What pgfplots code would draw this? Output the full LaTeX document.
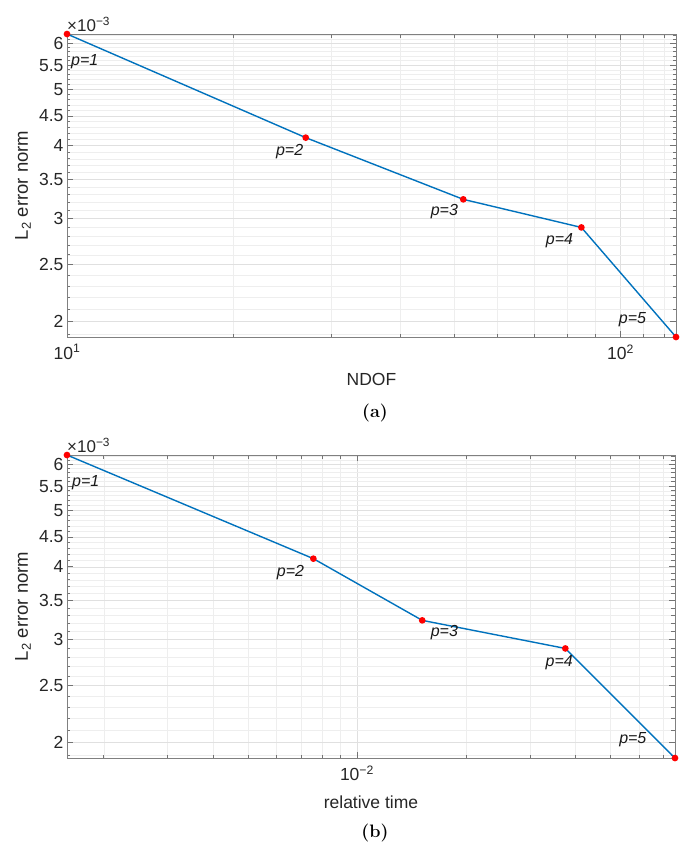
\documentclass[border=0pt]{standalone}
\usepackage{fontspec}
\setsansfont{Liberation Sans}
\usepackage{pgfplots}
\pgfplotsset{compat=1.18}
\definecolor{mblue}{rgb}{0,0.447,0.741}
\tikzset{
  plab/.style={anchor=west, inner sep=0pt, font=\sffamily\itshape\fontsize{16}{19}\selectfont, text=black!90},
  expo/.style={anchor=south west, inner sep=0pt, font=\sffamily\fontsize{17}{20}\selectfont, text=black!85},
}
\begin{document}
\begin{tikzpicture}[x=1pt,y=1pt]
\useasboundingbox (0,0) rectangle (691,860);
% ---------- (a) ----------
\begin{axis}[at={(67pt,523pt)}, anchor=south west,
  xmode=log, ymode=log, scale only axis, width=609pt, height=303pt,
  ymin=1.879e-3, ymax=6.22e-3,
  ytick={0.002,0.0025,0.003,0.0035,0.004,0.0045,0.005,0.0055,0.006},
  yticklabels={2,2.5,3,3.5,4,4.5,5,5.5,6},
  minor ytick={0.0019,0.0021,0.0022,0.0023,0.0024,0.0026,0.0027,0.0028,0.0029,0.0031,0.0032,0.0033,0.0034,0.0036,0.0037,0.0038,0.0039,0.0041,0.0042,0.0043,0.0044,0.0046,0.0047,0.0048,0.0049,0.0051,0.0052,0.0053,0.0054,0.0056,0.0057,0.0058,0.0059,0.0061,0.0062},
  grid=both,
  major grid style={gray!24, line width=0.5pt},
  minor grid style={gray!13, line width=0.5pt},
  axis line style={black!50, line width=0.6pt},
  major tick style={black!55, line width=0.6pt},
  minor tick style={black!55, line width=0.6pt},
  major tick length=6pt, minor tick length=3.5pt,
  tick label style={font=\sffamily\fontsize{17.5}{20}\selectfont, text=black!85},
  xticklabel style={yshift=-4pt},
  xlabel style={font=\sffamily\fontsize{17.5}{20}\selectfont, text=black!85, at={(axis description cs:0.5,0)}, anchor=center, yshift=-42pt},
  ylabel style={font=\sffamily\fontsize{18.5}{21}\selectfont, text=black!85, at={(axis description cs:-0.0723,0.5)}, anchor=center},
  ylabel={L\textsubscript{2} error norm},
  clip=false,
  xmin=10, xmax=126,
  xtick={10,100}, xticklabels={10\textsuperscript{1},10\textsuperscript{2}},
  minor xtick={20,30,40,50,60,70,80,90,110,120},
  xlabel={NDOF},
]
\addplot[mblue, line width=1.4pt, mark=*, mark size=2.6pt, mark options={draw=red, fill=red}]
  coordinates {(10,6.22e-3) (27,4.13e-3) (52,3.237e-3) (85,2.897e-3) (126,1.879e-3)};
\node[expo, yshift=2pt] at (rel axis cs:0,1) {×10\textsuperscript{−3}};
\node[plab] at (rel axis cs:0.0066,0.908) {p=1};
\node[plab] at (rel axis cs:0.343,0.611) {p=2};
\node[plab] at (rel axis cs:0.597,0.413) {p=3};
\node[plab] at (rel axis cs:0.786,0.317) {p=4};
\node[plab] at (rel axis cs:0.906,0.056) {p=5};
\end{axis}
% ---------- (b) ----------
\begin{axis}[at={(67pt,102pt)}, anchor=south west,
  xmode=log, ymode=log, scale only axis, width=608pt, height=303pt,
  ymin=1.879e-3, ymax=6.22e-3,
  ytick={0.002,0.0025,0.003,0.0035,0.004,0.0045,0.005,0.0055,0.006},
  yticklabels={2,2.5,3,3.5,4,4.5,5,5.5,6},
  minor ytick={0.0019,0.0021,0.0022,0.0023,0.0024,0.0026,0.0027,0.0028,0.0029,0.0031,0.0032,0.0033,0.0034,0.0036,0.0037,0.0038,0.0039,0.0041,0.0042,0.0043,0.0044,0.0046,0.0047,0.0048,0.0049,0.0051,0.0052,0.0053,0.0054,0.0056,0.0057,0.0058,0.0059,0.0061,0.0062},
  grid=both,
  major grid style={gray!24, line width=0.5pt},
  minor grid style={gray!13, line width=0.5pt},
  axis line style={black!50, line width=0.6pt},
  major tick style={black!55, line width=0.6pt},
  minor tick style={black!55, line width=0.6pt},
  major tick length=6pt, minor tick length=3.5pt,
  tick label style={font=\sffamily\fontsize{17.5}{20}\selectfont, text=black!85},
  xticklabel style={yshift=-4pt},
  xlabel style={font=\sffamily\fontsize{17.5}{20}\selectfont, text=black!85, at={(axis description cs:0.5,0)}, anchor=center, yshift=-44pt},
  ylabel style={font=\sffamily\fontsize{18.5}{21}\selectfont, text=black!85, at={(axis description cs:-0.0724,0.5)}, anchor=center},
  ylabel={L\textsubscript{2} error norm},
  clip=false,
  xmin=1.583e-3, xmax=7.55e-2,
  xtick={0.01}, xticklabels={10\textsuperscript{−2}},
  minor xtick={0.002,0.003,0.004,0.005,0.006,0.007,0.008,0.009,0.02,0.03,0.04,0.05,0.06,0.07},
  xlabel={relative time},
]
\addplot[mblue, line width=1.4pt, mark=*, mark size=2.6pt, mark options={draw=red, fill=red}]
  coordinates {(1.583e-3,6.22e-3) (7.58e-3,4.13e-3) (1.514e-2,3.237e-3) (3.76e-2,2.897e-3) (7.55e-2,1.879e-3)};
\node[expo, yshift=2pt] at (rel axis cs:0,1) {×10\textsuperscript{−3}};
\node[plab] at (rel axis cs:0.0082,0.908) {p=1};
\node[plab] at (rel axis cs:0.345,0.611) {p=2};
\node[plab] at (rel axis cs:0.598,0.413) {p=3};
\node[plab] at (rel axis cs:0.787,0.314) {p=4};
\node[plab] at (rel axis cs:0.908,0.059) {p=5};
\end{axis}
\node[font=\bfseries\fontsize{18}{21}\selectfont] at (375,447) {(a)};
\node[font=\bfseries\fontsize{18}{21}\selectfont] at (375,27) {(b)};
\end{tikzpicture}
\end{document}
